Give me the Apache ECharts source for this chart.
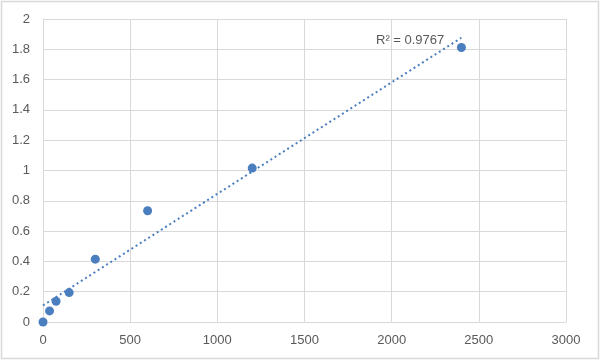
<!DOCTYPE html>
<html><head><meta charset="utf-8">
<script src="https://cdn.jsdelivr.net/npm/echarts@6/dist/echarts.min.js"></script>
<style>html,body{margin:0;padding:0;background:#fff}#c{width:600px;height:361px}</style>
</head><body><div id="c"></div>
<script>
var xValues = [0, 37.5, 75, 150, 300, 600, 1200, 2400];
var yValues = [0, 0.073, 0.137, 0.194, 0.415, 0.734, 1.016, 1.812];
var xTicks = [0, 500, 1000, 1500, 2000, 2500, 3000];
var yTicks = [0, 0.2, 0.4, 0.6, 0.8, 1, 1.2, 1.4, 1.6, 1.8, 2];
var r2Text = 'R\u00B2 = 0.9767';

// least-squares linear trendline from the data
var n = xValues.length, mx = 0, my = 0;
for (var i = 0; i < n; i++) { mx += xValues[i]; my += yValues[i]; }
mx /= n; my /= n;
var sxx = 0, sxy = 0;
for (var i = 0; i < n; i++) { sxx += (xValues[i]-mx)*(xValues[i]-mx); sxy += (xValues[i]-mx)*(yValues[i]-my); }
var slope = sxy / sxx, intercept = my - slope * mx;
var xMin = Math.min.apply(null, xValues), xMax = Math.max.apply(null, xValues);
var trend = [[xMin, intercept + slope * xMin], [xMax, intercept + slope * xMax]];

var pts = xValues.map(function (x, i) { return [x, yValues[i]]; });
var font = 'Liberation Sans';
var chart = echarts.init(document.getElementById('c'));
chart.setOption({
  animation: false,
  grid: { left: 43, right: 34, top: 19, bottom: 39 },
  xAxis: {
    type: 'value', min: xTicks[0], max: xTicks[xTicks.length-1], interval: 500,
    axisLine: { lineStyle: { color: '#d9d9d9', width: 1 } },
    axisTick: { show: false },
    axisLabel: { color: '#595959', fontFamily: font, fontSize: 13, margin: 12,
      formatter: function (v) { return String(v); } },
    splitLine: { lineStyle: { color: '#d9d9d9', width: 1 } }
  },
  yAxis: {
    type: 'value', min: yTicks[0], max: yTicks[yTicks.length-1], interval: 0.2,
    axisLine: { show: true, lineStyle: { color: '#d9d9d9', width: 1 } },
    axisTick: { show: false },
    axisLabel: { color: '#595959', fontFamily: font, fontSize: 13, margin: 13,
      formatter: function (v) { return String(Math.round(v * 10) / 10); } },
    splitLine: { lineStyle: { color: '#d9d9d9', width: 1 } }
  },
  series: [
    {
      type: 'line', data: trend, symbol: 'none', silent: true,
      lineStyle: { color: '#4a7ebf', width: 2, type: [2, 3] },
      z: 2
    },
    {
      type: 'scatter', data: pts, symbolSize: 9,
      itemStyle: { color: '#4a7ebf', opacity: 1 }, z: 3
    }
  ],
  graphic: [
    { type: 'rect', shape: { x: 1.5, y: 1.5, width: 597, height: 357 },
      style: { fill: 'none', stroke: '#d9d9d9', lineWidth: 1.5 }, silent: true },
    { type: 'text', left: 376, top: 34,
      style: { text: r2Text, fill: '#595959', font: '13px "Liberation Sans"' } }
  ]
});
</script>
</body></html>
